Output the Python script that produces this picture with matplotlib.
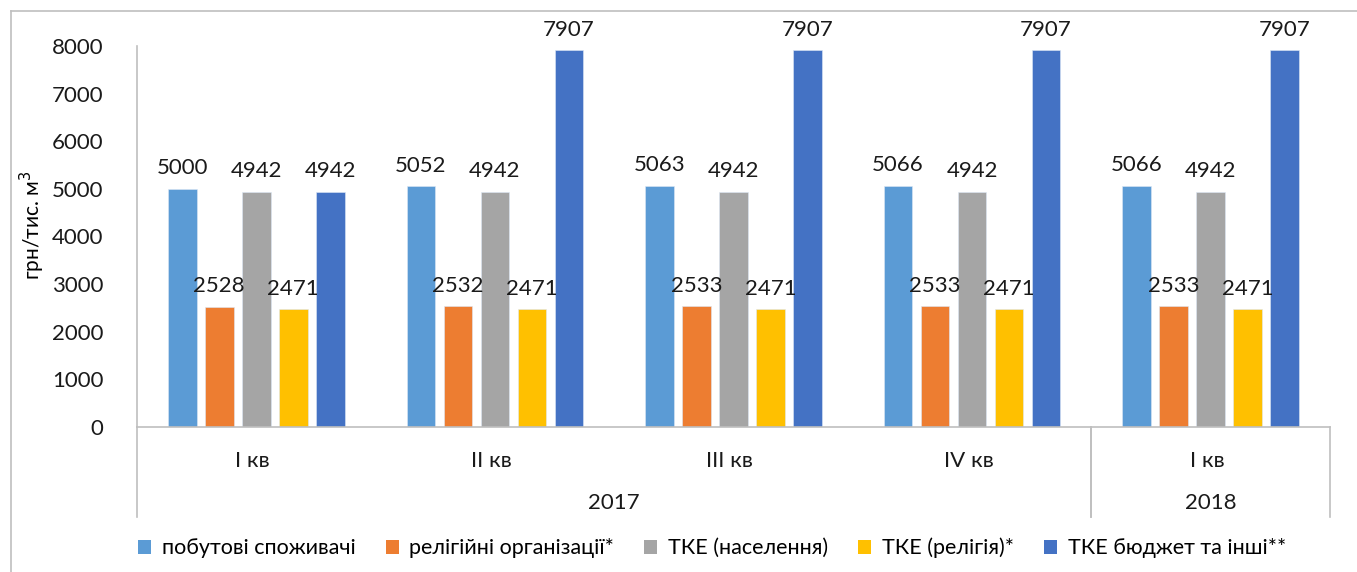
import matplotlib.pyplot as plt
import numpy as np
from matplotlib.lines import Line2D
from matplotlib.patches import Patch

plt.rcParams["font.family"] = ["Lato", "DejaVu Sans"]

quarters = ["I кв", "II кв", "III кв", "IV кв", "I кв"]
years = ["2017", "2018"]
year_spans = [(0, 4), (4, 5)]

series_names = [
    "побутові споживачі",
    "релігійні організації*",
    "ТКЕ (населення)",
    "ТКЕ (релігія)*",
    "ТКЕ бюджет та інші**",
]
household = [5000, 5052, 5063, 5066, 5066]
religious = [2528, 2532, 2533, 2533, 2533]
tke_pop = [4942, 4942, 4942, 4942, 4942]
tke_rel = [2471, 2471, 2471, 2471, 2471]
tke_budget = [4942, 7907, 7907, 7907, 7907]

colors = ["#5b9bd5", "#ed7d31", "#a5a5a5", "#ffc000", "#4472c4"]
series = [household, religious, tke_pop, tke_rel, tke_budget]

FS = 16

W, H = 1357, 572
fig = plt.figure(figsize=(W / 100, H / 100), dpi=100)
ax = fig.add_axes([137 / W, 1 - 427 / H, (1330 - 137) / W, (427 - 46) / H])

x = np.arange(len(quarters))
pitch = 37 / 238.6
bw = 28.5 / 238.6
for i, (vals, col) in enumerate(zip(series, colors)):
    pos = x + (i - 2) * pitch
    ax.bar(pos, vals, bw, color=col, edgecolor="#dde8f5", linewidth=0.4, zorder=2)
    for p, v in zip(pos, vals):
        ax.text(p, v + 220, f"{v}", ha="center", va="bottom", fontsize=FS, color="#1a1a1a", zorder=3)

ax.set_xlim(-0.5, len(quarters) - 0.5)
ax.set_ylim(0, 8000)
ax.set_yticks(range(0, 8001, 1000))
ax.tick_params(axis="y", length=0, labelsize=FS, pad=24, labelcolor="#1a1a1a")
ax.set_xticks([])
for s in ["top", "right"]:
    ax.spines[s].set_visible(False)
ax.spines["left"].set_color("#bfbfbf")
ax.spines["bottom"].set_color("#bfbfbf")
ax.spines["left"].set_linewidth(1.2)
ax.spines["bottom"].set_linewidth(1.2)
ax.set_ylabel("грн/тис. м$^3$", fontsize=FS - 1)
ax.yaxis.set_label_coords(-90 / (1330 - 137), 0.53)

# multi-level category labels
trans = ax.get_xaxis_transform()
for xi, q in zip(x, quarters):
    ax.text(xi - 0.015, -0.09, q, transform=trans, ha="center", va="center", fontsize=FS, color="#1a1a1a")
for (a, b), yr in zip(year_spans, years):
    ax.text((a + b - 1) / 2, -0.2, yr, transform=trans, ha="center", va="center", fontsize=FS,
            color="#1a1a1a")
for (a, b) in year_spans:
    for edge in (a - 0.5, b - 0.5):
        ax.add_line(Line2D([edge, edge], [0, -90 / 381], transform=trans, color="#bfbfbf",
                           lw=1.2, clip_on=False))

# outer chart border (top and left visible)
fig.add_artist(Line2D([11 / W, 11 / W], [0, 1 - 11 / H], color="#bfbfbf", lw=1.2))
fig.add_artist(Line2D([11 / W, 1], [1 - 11 / H, 1 - 11 / H], color="#bfbfbf", lw=1.2))

handles = [Patch(facecolor=c, edgecolor="none") for c in colors]
fig.legend(handles, series_names, loc="center", bbox_to_anchor=(712 / W, 1 - 548 / H), ncol=5,
           frameon=False, fontsize=FS - 0.5, handlelength=0.6, handleheight=0.6, handletextpad=0.5,
           columnspacing=1.4)

fig.savefig("out.png", dpi=100)
